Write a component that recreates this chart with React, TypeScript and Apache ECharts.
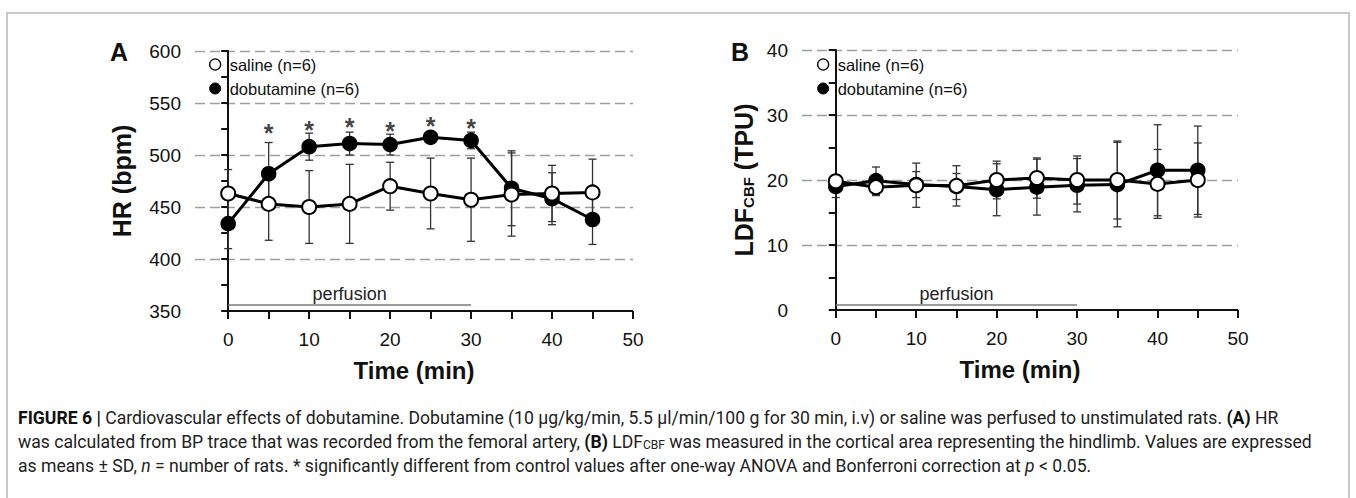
import React, { useEffect, useRef } from "react";
import * as echarts from "echarts";

// ---------- data ----------
const timePoints = [0, 5, 10, 15, 20, 25, 30, 35, 40, 45];

// Panel A: heart rate (bpm)
const hrSalineMean = [463, 453, 450, 453, 470, 463, 457, 462, 463, 464];
const hrSalineSD = [23, 35, 35, 38, 23, 34, 40, 40, 27, 32];
const hrDobMean = [434, 482, 508, 511, 510, 517, 514, 468, 458, 438];
const hrDobSD = [24, 30, 13, 11, 10, 5, 8, 36, 25, 24];

// significance stars (time, HR level where the star sits)
const starTimes = [5, 10, 15, 20, 25, 30];
const starLevels = [527, 530, 533, 529, 534, 532];

// Panel B: LDF_CBF (TPU)
const ldfSalineMean = [19.8, 18.9, 19.2, 19.1, 20.0, 20.3, 20.0, 20.0, 19.4, 20.0];
const ldfSalineSD = [1.0, 1.3, 3.4, 3.1, 2.9, 3.1, 3.7, 6.0, 5.3, 5.7];
const ldfDobMean = [19.0, 19.9, 19.3, 19.0, 18.5, 18.9, 19.2, 19.3, 21.5, 21.5];
const ldfDobSD = [1.7, 2.1, 2.0, 2.0, 4.0, 4.3, 4.1, 6.5, 7.0, 6.8];

// perfusion period
const perfusionStart = 0;
const perfusionEnd = 30;
const perfusionLevelA = 355.6;
const perfusionLevelB = 0.8;

const xTickValues = [0, 5, 10, 15, 20, 25, 30, 35, 40, 45, 50];
const xLabelValues = [0, 10, 20, 30, 40, 50];

const salineName = "saline (n=6)";
const dobName = "dobutamine (n=6)";

const captionLines = [
  "{b|FIGURE 6 |} Cardiovascular effects of dobutamine. Dobutamine (10 μg/kg/min, 5.5 μl/min/100 g for 30 min, i.v) or saline was perfused to unstimulated rats. {b|(A)} HR",
  "was calculated from BP trace that was recorded from the femoral artery, {b|(B)} LDF{s|CBF} was measured in the cortical area representing the hindlimb. Values are expressed",
  "as means ± SD, {i|n} = number of rats. * significantly different from control values after one-way ANOVA and Bonferroni correction at {i|p} < 0.05.",
];

// ---------- helpers ----------
const FONT = '"Liberation Sans", Arial, Helvetica, sans-serif';
const CAP_FONT = 'Roboto, "Liberation Sans", sans-serif';
const CAP_SIZE = 17.6;

const errData = (mean: number[], sd: number[]) =>
  timePoints.map((t, i) => [t, mean[i] - sd[i], mean[i] + sd[i]]);
const lineData = (mean: number[]) => timePoints.map((t, i) => [t, mean[i]]);

function renderErr(_params: any, api: any) {
  const x = api.value(0);
  const lo = api.value(1);
  const hi = api.value(2);
  const top = api.coord([x, hi]);
  const bot = api.coord([x, lo]);
  const w = 4;
  const style = { stroke: "#333", lineWidth: 1.3 };
  return {
    type: "group",
    children: [
      { type: "line", shape: { x1: top[0], y1: top[1], x2: bot[0], y2: bot[1] }, style },
      { type: "line", shape: { x1: top[0] - w, y1: top[1], x2: top[0] + w, y2: top[1] }, style },
      { type: "line", shape: { x1: bot[0] - w, y1: bot[1], x2: bot[0] + w, y2: bot[1] }, style },
    ],
  };
}

function xAxisCfg(gridIndex: number, min: number) {
  return {
    type: "value",
    gridIndex,
    min,
    max: 50,
    axisLine: { show: false },
    axisTick: {
      show: true,
      customValues: xTickValues,
      length: 8,
      lineStyle: { color: "#111", width: 2 },
    },
    axisLabel: {
      customValues: xLabelValues,
      fontSize: 19,
      color: "#111",
      fontFamily: FONT,
      margin: 19,
    },
    splitLine: { show: false },
    name: "Time (min)",
    nameLocation: "middle",
    nameGap: 47,
    nameTextStyle: { fontSize: 24, fontWeight: "bold", color: "#111", fontFamily: FONT },
  };
}

function yAxisCfg(gridIndex: number, min: number, max: number, interval: number, name: string, nameGap: number, rich?: any) {
  return {
    type: "value",
    gridIndex,
    min,
    max,
    interval,
    axisLine: { show: true, lineStyle: { color: "#111", width: 2 } },
    axisTick: { show: true, length: 7, lineStyle: { color: "#111", width: 2 } },
    minorTick: { show: true, splitNumber: 2, length: 7, lineStyle: { color: "#111", width: 2 } },
    axisLabel: { fontSize: 19, color: "#111", fontFamily: FONT, margin: 14 },
    splitLine: {
      show: true,
      showMinLine: false,
      lineStyle: { color: "#9e9e9e", width: 1.4, type: [10, 5] },
    },
    name,
    nameLocation: "middle",
    nameGap,
    nameTextStyle: {
      fontSize: 25,
      fontWeight: "bold",
      color: "#111",
      fontFamily: FONT,
      rich,
    },
  };
}

function panelSeries(
  idx: number,
  salMean: number[],
  salSD: number[],
  dobMean: number[],
  dobSD: number[],
  axisBase: number,
  perfLevel: number
) {
  const common = { xAxisIndex: idx, yAxisIndex: idx };
  return [
    {
      ...common,
      type: "custom",
      name: "err-sal-" + idx,
      renderItem: renderErr,
      encode: { x: 0, y: [1, 2] },
      data: errData(salMean, salSD),
      z: 1,
      silent: true,
    },
    {
      ...common,
      type: "custom",
      name: "err-dob-" + idx,
      renderItem: renderErr,
      encode: { x: 0, y: [1, 2] },
      data: errData(dobMean, dobSD),
      z: 1,
      silent: true,
    },
    {
      ...common,
      type: "line",
      name: dobName,
      data: lineData(dobMean),
      symbol: "circle",
      symbolSize: 14,
      lineStyle: { color: "#000", width: 3 },
      itemStyle: { color: "#000", borderColor: "#000", borderWidth: 1.5 },
      z: 3,
      silent: true,
    },
    {
      ...common,
      type: "line",
      name: salineName,
      data: lineData(salMean),
      symbol: "circle",
      symbolSize: 14,
      lineStyle: { color: "#000", width: 3 },
      itemStyle: { color: "#fff", borderColor: "#000", borderWidth: 2 },
      z: 4,
      silent: true,
    },
    {
      ...common,
      type: "line",
      name: "helper-" + idx,
      data: [],
      clip: false,
      silent: true,
      markLine: {
        silent: true,
        symbol: ["none", "none"],
        animation: false,
        data: [
          [
            {
              coord: [0, axisBase],
              lineStyle: { color: "#111", width: 2, type: "solid" },
              label: { show: false },
            },
            { coord: [50, axisBase] },
          ],
          [
            {
              coord: [perfusionStart, perfLevel],
              lineStyle: { color: "#7a7a7a", width: 1.6, type: "solid" },
              label: {
                show: true,
                formatter: "perfusion",
                position: "insideMiddleTop",
                distance: 2,
                fontSize: 18,
                color: "#222",
                fontFamily: FONT,
              },
            },
            { coord: [perfusionEnd, perfLevel] },
          ],
        ],
      },
    },
  ];
}

export default function App() {
  const ref = useRef<HTMLDivElement>(null);

  useEffect(() => {
    if (!ref.current) return;
    const chart = echarts.init(ref.current, undefined, { renderer: "svg" });

    const legendCfg = (left: number) => ({
      orient: "vertical",
      left,
      top: 56,
      padding: 0,
      icon: "circle",
      itemWidth: 11,
      itemHeight: 11,
      itemGap: 7,
      selectedMode: false,
      data: [
        { name: salineName, itemStyle: { color: "#fff", borderColor: "#000", borderWidth: 1.3 } },
        { name: dobName, itemStyle: { color: "#000", borderColor: "#000", borderWidth: 1 } },
      ],
      textStyle: { fontSize: 16.5, color: "#111", fontFamily: FONT, padding: [0, 0, 0, 4] },
    });

    const option: any = {
      animation: false,
      backgroundColor: "#fff",
      textStyle: { fontFamily: FONT },
      title: [
        { text: "A", left: 105, top: 34, textStyle: { fontSize: 25, fontWeight: "bold", color: "#111", fontFamily: FONT } },
        { text: "B", left: 726, top: 34, textStyle: { fontSize: 25, fontWeight: "bold", color: "#111", fontFamily: FONT } },
      ],
      legend: [legendCfg(209), legendCfg(817)],
      grid: [
        { left: 195, top: 51, width: 438, height: 260, containLabel: false },
        { left: 802, top: 50, width: 436, height: 260, containLabel: false },
      ],
      xAxis: [xAxisCfg(0, -4.1), xAxisCfg(1, -4.2)],
      yAxis: [
        yAxisCfg(0, 350, 600, 50, "HR (bpm)", 61),
        yAxisCfg(1, 0, 40, 10, "{a|LDF}{s|CBF}{a| (TPU)}", 46, {
          a: { fontSize: 25, fontWeight: "bold", color: "#111", fontFamily: FONT },
          s: { fontSize: 15, fontWeight: "bold", color: "#111", fontFamily: FONT, verticalAlign: "bottom" },
        }),
      ],
      series: [
        ...panelSeries(0, hrSalineMean, hrSalineSD, hrDobMean, hrDobSD, 350, perfusionLevelA),
        {
          type: "scatter",
          name: "stars",
          xAxisIndex: 0,
          yAxisIndex: 0,
          data: starTimes.map((t, i) => [t, starLevels[i]]),
          symbolSize: 2,
          itemStyle: { color: "rgba(0,0,0,0)" },
          silent: true,
          z: 5,
          label: {
            show: true,
            formatter: "*",
            position: "inside",
            fontSize: 25,
            fontWeight: "bold",
            color: "#111",
            fontFamily: FONT,
            offset: [0, 6],
          },
        },
        ...panelSeries(1, ldfSalineMean, ldfSalineSD, ldfDobMean, ldfDobSD, 0, perfusionLevelB),
      ],
      graphic: [
        {
          type: "rect",
          shape: { x: 7, y: 13, width: 1342, height: 520 },
          style: { fill: "none", stroke: "#b8b8b8", lineWidth: 1.5 },
          silent: true,
          z: -10,
        },
        ...captionLines.map((line, i) => ({
          type: "text",
          left: 18,
          top: 409 + i * 24,
          silent: true,
          style: {
            text: line,
            fontSize: CAP_SIZE,
            fontFamily: CAP_FONT,
            fill: "#222",
            rich: {
              b: { fontSize: CAP_SIZE, fontWeight: "bold", fontFamily: CAP_FONT, fill: "#111" },
              i: { fontSize: CAP_SIZE, fontStyle: "italic", fontFamily: CAP_FONT, fill: "#222" },
              s: { fontSize: 12, fontFamily: CAP_FONT, fill: "#222", verticalAlign: "bottom", padding: [6, 0, 0, 0] },
            },
          },
        })),
      ],
    };

    chart.setOption(option);
    return () => chart.dispose();
  }, []);

  return (
    <div
      ref={ref}
      style={{ position: "absolute", left: 0, top: 0, width: 1356, height: 498 }}
    />
  );
}
